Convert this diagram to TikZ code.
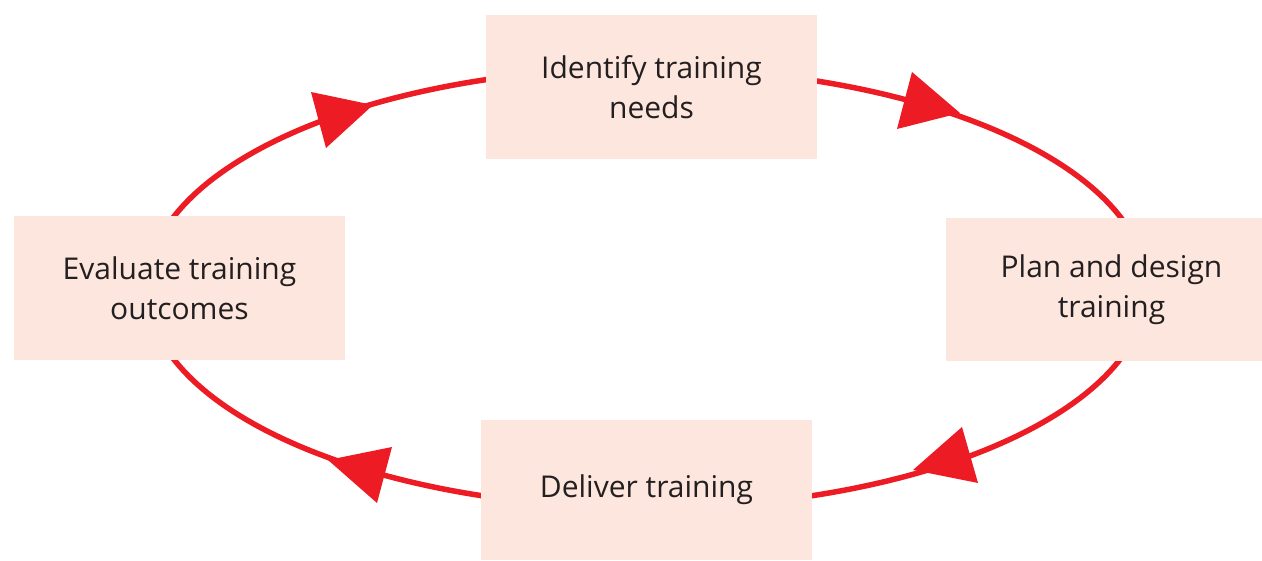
\documentclass[tikz,border=0pt]{standalone}
\usepackage{fontspec}
\setmainfont{Open Sans}
\definecolor{cycred}{HTML}{ED1C24}
\definecolor{boxfill}{HTML}{FDE6DD}
\definecolor{txt}{HTML}{231F20}
\begin{document}
\begin{tikzpicture}[x=1pt,y=-1pt,
  stagebox/.style={fill=boxfill, draw=none, minimum width=331pt, minimum height=144pt,
    align=center, font=\fontsize{30}{40}\selectfont, text=txt, inner sep=0pt},
  cycle/.style={draw=cycred, line width=5.5pt},
  headtri/.style={fill=cycred}]
\useasboundingbox (0,0) rectangle (1262,561);
\fill[white] (0,0) rectangle (1262,561);
\coordinate (ctr) at (647,288);
\draw[cycle] (ctr) ellipse [x radius=500pt, y radius=220pt];
\node[stagebox] (identify) at (651.5,87) {Identify training\\needs};
\node[stagebox, minimum height=143pt] (plan) at (1111.5,289.5) {Plan and design\\training};
\node[stagebox, minimum height=140pt] (deliver) at (646.5,490) {Deliver training};
\node[stagebox] (evaluate) at (179.5,288) {Evaluate training\\outcomes};
\fill[headtri] (311,92) -- (326,148) -- (373,105) -- cycle;
\fill[headtri] (912,72) -- (897,129) -- (960,113) -- cycle;
\fill[headtri] (962,427) -- (978,483) -- (913,470) -- cycle;
\fill[headtri] (392,447) -- (377,503) -- (328,460) -- cycle;
\end{tikzpicture}
\end{document}
